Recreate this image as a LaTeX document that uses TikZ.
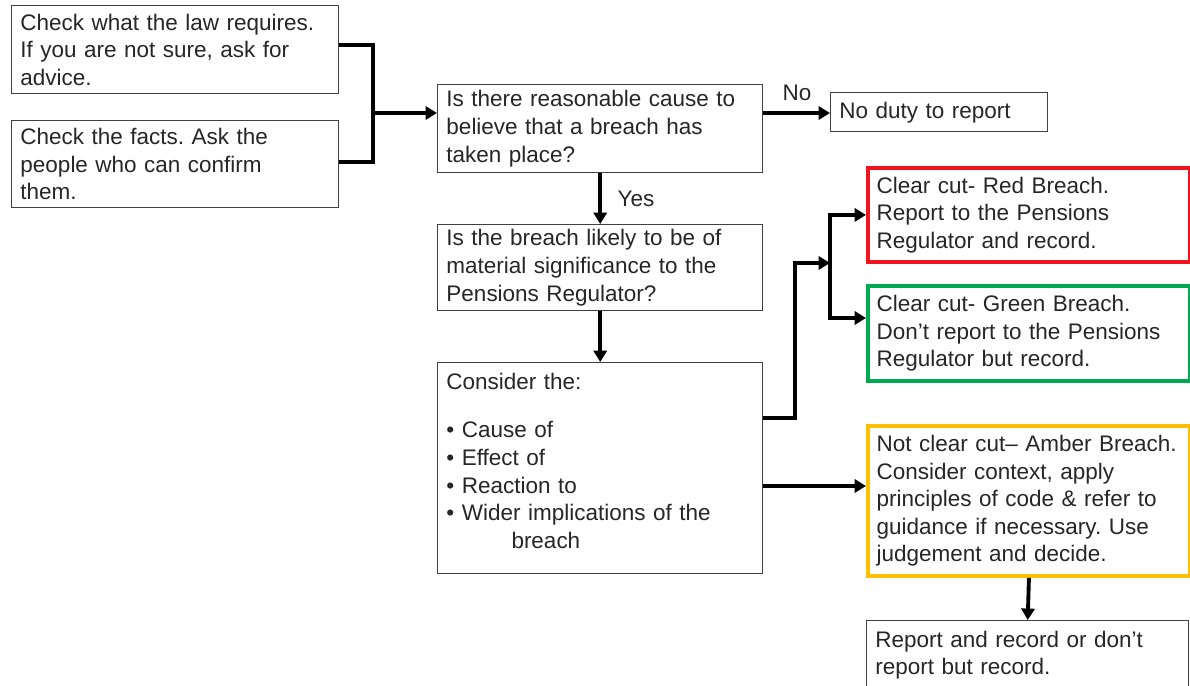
\documentclass[tikz,border=0pt]{standalone}
\usepackage{fontspec}
\setmainfont{Liberation Sans}
\frenchspacing
\usetikzlibrary{arrows.meta}
\definecolor{redline}{RGB}{240,20,30}
\definecolor{greenline}{RGB}{0,170,80}
\definecolor{amberline}{RGB}{255,190,0}
\begin{document}
\begin{tikzpicture}[x=0.02cm,y=-0.02cm]
	\tikzstyle{every node}+=[font=\fontsize{12.8}{15.7}\selectfont, text=black!85]
	\tikzstyle{box}=[draw=black!75, line width=0.8pt, anchor=north west, align=left, inner xsep=5pt, inner ysep=0pt]
	\tikzstyle{bar}=[line width=2.2pt]
	\tikzstyle{link}=[line width=2.2pt, -{Triangle[length=6.5pt,width=7.5pt]}]
	\clip (0,0) rectangle (1190,686);
	\node [box, minimum width=6.54cm, minimum height=1.76cm, text width=6.19cm] (law) at (11,5) {Check what the law requires.\\If you are not sure, ask for\\advice.};
	\node [box, minimum width=6.54cm, minimum height=1.74cm, text width=6.19cm] (facts) at (11,120) {Check the facts. Ask the\\people who can confirm\\them.};
	\node [box, minimum width=6.5cm, minimum height=1.76cm, text width=6.15cm] (cause) at (437,84) {Is there reasonable cause to\\believe that a breach has\\taken place?};
	\node [box, minimum width=4.34cm, minimum height=0.78cm, text width=3.99cm] (noduty) at (830,92) {No duty to report};
	\node [box, minimum width=6.5cm, minimum height=1.72cm, text width=6.15cm] (likely) at (437,224) {Is the breach likely to be of\\material significance to the\\Pensions Regulator?};
	\node [box, minimum width=6.5cm, minimum height=4.22cm, text width=6.15cm] (consider) at (437,362) {Consider the:\\[12pt]\textbullet{} Cause of\\\textbullet{} Effect of\\\textbullet{} Reaction to\\\textbullet{} Wider implications of the\\\hspace*{37pt}breach\\[-7pt]\mbox{}};
	\node [box, draw=redline, line width=2.2pt, minimum width=6.44cm, minimum height=1.88cm, text width=6.09cm] (red) at (866,166) {Clear cut- Red Breach.\\Report to the Pensions\\Regulator and record.};
	\node [box, draw=greenline, line width=2.2pt, minimum width=6.44cm, minimum height=1.9cm, text width=6.09cm] (green) at (866,284) {Clear cut- Green Breach.\\Don't report to the Pensions\\Regulator but record.};
	\node [box, draw=amberline, line width=2.2pt, minimum width=6.44cm, minimum height=3.0cm, text width=6.09cm] (amber) at (866,424) {Not clear cut-- Amber Breach.\\Consider context, apply\\principles of code \& refer to\\guidance if necessary. Use\\judgement and decide.};
	\node [box, minimum width=6.44cm, minimum height=1.38cm, text width=6.09cm] (outcome) at (866,620) {Report and record or don't\\report but record.};
	\coordinate (join) at (373,113);
	\coordinate (fork) at (830,263);
	\draw [bar] (law.east |- 0,45) -| (join) |- (facts.east |- 0,162);
	\draw [link] (join) -- (join -| cause.west);
	\draw [link] (cause.east |- 0,113) -- (noduty.west |- 0,113);
	\node (no) at (797,93) {No};
	\draw [link] (cause.south) -- (likely.north);
	\node (yes) at (636,199) {Yes};
	\draw [link] (likely.south) -- (consider.north);
	\draw [link] (consider.east |- 0,418) -| (795,263) -- (fork);
	\draw [bar] (fork |- red.west) -- (fork |- 0,318);
	\draw [link] (fork) |- (red.west);
	\draw [link] (fork) |- (green.west |- 0,318);
	\draw [link] (consider.east |- 0,486) -- (amber.west |- 0,486);
	\draw [link] (amber.south) -- (outcome.north);
\end{tikzpicture}
\end{document}
